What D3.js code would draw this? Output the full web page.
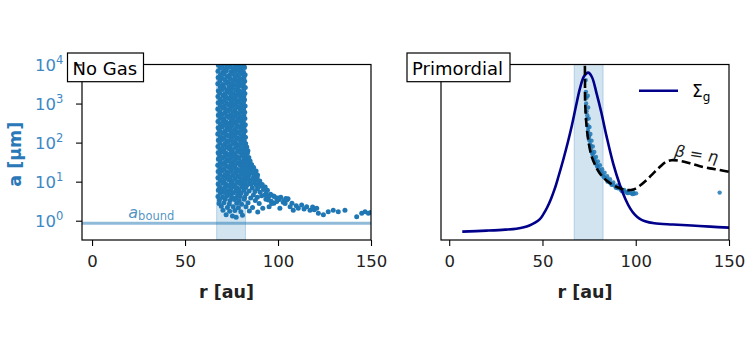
<!DOCTYPE html>
<html><head><meta charset="utf-8">
<script src="https://cdn.jsdelivr.net/npm/d3@7"></script>
<style>
body{margin:0;background:#fff;}
svg{font-family:"DejaVu Sans",sans-serif;display:block;}
</style></head>
<body>
<svg id="c" width="750" height="350"></svg>
<script>
// ---------- data ----------
const xTicks = [0, 50, 100, 150];
const yTickExps = [0, 1, 2, 3, 4];
const panelTitles = ["No Gas", "Primordial"];
const shadeRange = [67, 82.5];          // au
const aBound = 0.86;                     // μm
// No Gas scatter: [r (au), log10 a (μm)]
const noGasPoints = [
[67.9,3.99],[70.0,3.96],[72.4,3.98],[74.5,3.95],[77.0,3.99],[79.3,3.97],[81.6,3.96],
[68.8,3.91],[71.3,3.88],[73.4,3.92],[75.8,3.89],[78.1,3.91],[80.2,3.88],[82.0,3.92],
[67.7,3.83],[70.3,3.80],[72.2,3.84],[74.7,3.81],[76.8,3.82],[79.1,3.84],[81.4,3.80],
[69.0,3.73],[71.1,3.76],[73.6,3.72],[75.6,3.75],[78.2,3.73],[80.4,3.76],[82.3,3.74],
[67.8,3.67],[70.0,3.65],[72.5,3.68],[74.4,3.64],[77.0,3.67],[79.4,3.65],[81.7,3.66],
[68.7,3.58],[71.4,3.60],[73.3,3.56],[75.9,3.59],[77.9,3.57],[80.1,3.60],[82.1,3.57],
[67.6,3.51],[70.2,3.49],[72.3,3.52],[74.8,3.50],[76.7,3.48],[79.2,3.51],[81.3,3.50],
[68.9,3.43],[71.0,3.41],[73.7,3.43],[75.5,3.40],[78.3,3.42],[80.5,3.44],[82.4,3.41],
[67.9,3.33],[70.1,3.36],[72.6,3.34],[74.5,3.32],[77.2,3.35],[79.0,3.33],[81.5,3.35],
[68.6,3.27],[71.3,3.25],[73.4,3.28],[75.7,3.26],[78.0,3.24],[80.3,3.27],[82.2,3.26],
[67.7,3.18],[70.4,3.20],[72.1,3.17],[74.6,3.19],[76.9,3.16],[79.3,3.19],[81.6,3.18],
[68.8,3.11],[71.2,3.09],[73.5,3.12],[75.8,3.10],[78.1,3.08],[80.2,3.11],[82.0,3.10],
[67.8,3.02],[70.0,3.04],[72.4,3.01],[74.7,3.03],[77.1,3.00],[79.1,3.03],[81.4,3.02],
[68.9,2.95],[71.1,2.93],[73.6,2.96],[75.6,2.94],[78.2,2.92],[80.4,2.95],[82.3,2.94],
[67.6,2.86],[70.2,2.88],[72.3,2.85],[74.4,2.87],[76.8,2.84],[79.4,2.87],[81.5,2.86],
[68.7,2.79],[71.4,2.77],[73.3,2.80],[75.9,2.78],[77.9,2.76],[80.1,2.79],[82.1,2.78],
[67.9,2.70],[70.1,2.72],[72.5,2.69],[74.6,2.71],[77.0,2.68],[79.2,2.71],[81.6,2.70],
[68.8,2.63],[71.0,2.61],[73.5,2.64],[75.7,2.62],[78.3,2.60],[80.3,2.63],[82.2,2.62],
[67.7,2.54],[70.3,2.56],[72.2,2.53],[74.8,2.55],[76.9,2.52],[79.0,2.55],[81.3,2.54],
[69.0,2.47],[71.2,2.45],[73.4,2.48],[75.5,2.46],[78.0,2.44],[80.5,2.47],[82.4,2.46],
[67.8,2.38],[70.0,2.40],[72.6,2.37],[74.5,2.39],[77.1,2.36],[79.3,2.39],[81.7,2.38],
[68.6,2.31],[71.3,2.29],[73.6,2.32],[75.8,2.30],[78.2,2.28],[80.2,2.31],[82.3,2.30],
[67.6,2.22],[70.2,2.24],[72.3,2.21],[74.7,2.23],[76.8,2.20],[79.1,2.23],[81.5,2.22],
[68.9,2.15],[71.1,2.13],[73.5,2.16],[75.6,2.14],[78.1,2.12],[80.4,2.15],[82.5,2.14],
[67.9,2.06],[70.1,2.08],[72.4,2.05],[74.6,2.07],[77.0,2.04],[79.4,2.07],[81.8,2.06],
[68.7,1.99],[71.4,1.97],[73.3,2.00],[75.9,1.98],[78.0,1.96],[80.3,1.99],[82.6,1.98],
[67.7,1.90],[70.3,1.92],[72.5,1.89],[74.4,1.91],[77.2,1.88],[79.2,1.91],[81.6,1.90],[83.2,1.89],
[68.8,1.83],[71.0,1.81],[73.7,1.84],[75.5,1.82],[78.3,1.80],[80.1,1.83],[82.4,1.82],[83.8,1.79],
[67.8,1.74],[70.0,1.76],[72.2,1.73],[74.8,1.75],[76.9,1.72],[79.3,1.75],[81.4,1.74],[83.5,1.73],
[68.6,1.67],[71.2,1.65],[73.4,1.68],[75.7,1.66],[78.1,1.64],[80.5,1.67],[82.7,1.66],[84.3,1.62],
[67.9,1.58],[70.2,1.60],[72.6,1.57],[74.5,1.59],[77.0,1.56],[79.0,1.59],[81.7,1.58],[83.9,1.57],[85.0,1.53],
[68.9,1.51],[71.3,1.49],[73.5,1.52],[75.8,1.50],[78.2,1.48],[80.2,1.51],[82.3,1.50],[84.4,1.47],[85.8,1.44],
[67.6,1.42],[70.1,1.44],[72.3,1.41],[74.7,1.43],[76.8,1.40],[79.4,1.43],[81.5,1.42],[83.6,1.41],[85.5,1.38],[86.9,1.36],
[68.7,1.35],[71.1,1.33],[73.6,1.36],[75.6,1.34],[78.0,1.32],[80.4,1.35],[82.6,1.34],[84.8,1.32],[86.6,1.30],[88.2,1.27],
[67.8,1.26],[70.0,1.28],[72.4,1.25],[74.6,1.27],[77.1,1.24],[79.1,1.27],[81.3,1.26],[83.4,1.25],[85.7,1.23],[87.5,1.21],[89.0,1.17],
[68.8,1.19],[71.4,1.17],[73.3,1.20],[75.9,1.18],[78.3,1.16],[80.3,1.19],[82.5,1.18],[84.2,1.16],[86.9,1.14],[88.8,1.10],
[67.7,1.10],[70.2,1.12],[72.5,1.09],[74.4,1.11],[77.0,1.08],[79.2,1.11],[81.6,1.10],[83.8,1.08],[86.1,1.06],[88.0,1.04],[90.2,1.02],
[68.9,1.03],[71.0,1.01],[73.7,1.04],[75.5,1.02],[78.2,1.00],[80.1,1.03],[82.4,1.01],[84.7,0.99],[87.3,0.97],[89.6,0.95],[91.5,0.93],
[67.8,0.94],[70.3,0.96],[72.3,0.93],[74.8,0.95],[76.9,0.92],[79.3,0.95],[81.4,0.94],[83.2,0.91],[85.6,0.93],[88.4,0.90],[90.9,0.88],[93.1,0.86],
[68.6,0.87],[71.3,0.85],[73.4,0.88],[75.7,0.86],[78.0,0.84],[80.5,0.87],[82.7,0.85],[86.2,0.84],[89.0,0.82],[92.2,0.80],[94.3,0.78],
[67.9,0.78],[70.0,0.80],[72.6,0.77],[74.5,0.79],[77.2,0.76],[79.0,0.79],[81.7,0.78],[84.5,0.76],[87.6,0.75],[90.4,0.73],[93.6,0.70],[96.0,0.68],
[69.0,0.70],[71.1,0.72],[73.5,0.69],[75.8,0.71],[78.3,0.68],[80.2,0.71],[83.0,0.69],[86.8,0.66],[91.2,0.64],[95.1,0.62],[97.6,0.63],
[67.7,0.62],[70.2,0.60],[72.4,0.63],[75.0,0.61],[77.4,0.59],[79.6,0.62],[82.1,0.60],[85.3,0.58],[88.9,0.60],[99.2,0.58],[101.5,0.60],[104.2,0.57],
[68.5,0.53],[71.6,0.55],[74.2,0.52],[76.6,0.54],[79.1,0.51],[81.8,0.55],[87.8,0.52],[93.5,0.55],[96.4,0.50],[100.6,0.54],[103.3,0.51],[105.4,0.56],
[68.3,0.44],[70.9,0.46],[73.8,0.43],[77.8,0.45],[80.4,0.42],[83.9,0.46],[89.9,0.44],[97.8,0.45],[102.8,0.47],
[69.5,0.37],[72.8,0.34],[75.9,0.36],[78.7,0.33],[82.8,0.36],[86.3,0.34],[91.8,0.32],[95.2,0.36],
[70.4,0.27],[74.0,0.24],[76.8,0.26],[80.0,0.23],[84.6,0.25],[89.1,0.22],
[72.1,0.15],[75.5,0.12],[77.5,0.09],[80.9,0.14],
[93.0,0.66],[94.8,0.53],[96.6,0.44],[99.3,0.49],[101.0,0.32],[103.8,0.44],[104.7,0.53],[106.5,0.36],
[108.2,0.27],[110.9,0.32],[112.7,0.40],[115.4,0.36],[117.2,0.27],[120.8,0.32],[121.7,0.19],[124.4,0.15],
[127.0,0.23],[129.7,0.27],[132.4,0.23],[136.0,0.27],[142.3,0.10],[145.0,0.19],[146.8,0.23],[148.6,0.19],
[107.5,0.45],[109.8,0.38],[114.0,0.30],[118.6,0.35],[119.5,0.28],[100.2,0.58],[98.0,0.62],[149.8,0.21]
];
// Primordial scatter: [r (au), log10 a (μm)]
const primPoints = [
[73.2,3.60],[73.3,3.30],[73.4,3.00],[73.6,2.80],[73.8,2.60],[74.1,2.45],[74.4,2.30],[74.7,2.18],
[75.1,2.06],[75.5,1.96],[75.9,1.87],[76.4,1.78],[76.9,1.70],[77.5,1.61],[78.1,1.53],[78.8,1.46],
[79.6,1.38],[80.5,1.31],[81.5,1.23],[82.6,1.16],[83.8,1.09],[85.0,1.03],[86.3,0.97],[87.7,0.92],
[89.1,0.87],[90.5,0.83],[92.0,0.79],[93.4,0.76],[94.9,0.73],[96.3,0.71],[97.7,0.70],[99.0,0.69],[100.2,0.70],
[73.6,3.15],[74.0,2.70],[74.5,2.38],[75.0,2.15],[75.8,1.92],[76.7,1.72],[77.8,1.55],[79.2,1.40],
[80.9,1.25],[82.8,1.12],[84.9,1.00],[87.0,0.92],[89.5,0.84],[92.5,0.76],[95.5,0.71],[98.3,0.68],
[74.3,3.20],[74.5,2.90],[74.8,2.62],[75.2,2.40],[75.7,2.22],[76.3,2.05],[77.0,1.90],[77.8,1.76],
[78.7,1.63],[79.7,1.52],[80.8,1.42],[82.0,1.32],[83.3,1.23],[84.7,1.14],[86.2,1.06],[88.0,0.98],
[90.0,0.90],[91.8,0.84],[93.8,0.79],[96.0,0.75],[98.6,0.73],
[145.0,0.72]
];
// β = η curve: [r (au), log10 a (μm)]
const betaEtaCurve = [
[72.7,4.30],[72.8,3.60],[72.9,3.01],[73.7,2.40],[74.8,1.99],[76.4,1.64],[78.5,1.40],[80.8,1.21],
[84.0,1.04],[87.9,0.91],[91.5,0.83],[95.1,0.785],[98.7,0.80],[102.0,0.89],[105.8,1.04],[109.5,1.22],
[113.0,1.38],[116.0,1.50],[119.2,1.55],[124.0,1.53],[129.0,1.47],[134.0,1.40],[139.8,1.34],[145.0,1.30],[150.0,1.25]
];
// Gas surface density Σg (normalised): [r (au), Σg]
const sigmaGas = [
[7,0.050],[20,0.056],[30,0.062],[36,0.068],[40,0.076],[43,0.087],[46,0.104],[48.6,0.125],[50.5,0.155],
[52.5,0.195],[54.5,0.245],[56.5,0.305],[58.5,0.378],[61.1,0.480],[63.5,0.582],[65.6,0.680],[68,0.805],
[70.1,0.910],[72.3,0.982],[74.5,1.004],[76.5,0.978],[79,0.880],[81.5,0.768],[84.4,0.620],[88,0.455],
[91.5,0.330],[94.5,0.245],[97,0.190],[99.5,0.152],[102,0.128],[105,0.112],[110,0.100],[120,0.093],
[130,0.087],[140,0.080],[150,0.074]
];

// ---------- drawing ----------
const svg = d3.select("#c");
const blue = "#1f77b4";
const tickBlue = "#4088c4";
const yTop = 64.5, yBot = 240;

const panels = [
  {x0: 82, x1: 371, dom: [-5.4, 150], title: panelTitles[0], tx: 67.5, tw: 76},
  {x0: 441, x1: 729, dom: [-4.4, 150], title: panelTitles[1], tx: 407, tw: 103}
];
const y = d3.scaleLog().domain([Math.pow(10, -0.494), 1e4]).range([yBot, yTop]);
const ySig = d3.scaleLinear().domain([0, 1.05]).range([yBot, 65]);

const defs = svg.append("defs");

panels.forEach((p, i) => {
  const x = d3.scaleLinear().domain(p.dom).range([p.x0, p.x1]);
  defs.append("clipPath").attr("id", "clip" + i)
    .append("rect").attr("x", p.x0).attr("y", yTop).attr("width", p.x1 - p.x0).attr("height", yBot - yTop);
  const g = svg.append("g");
  const plot = g.append("g").attr("clip-path", `url(#clip${i})`);

  // shaded band
  plot.append("rect")
    .attr("x", x(shadeRange[0])).attr("y", yTop)
    .attr("width", x(shadeRange[1]) - x(shadeRange[0])).attr("height", yBot - yTop)
    .attr("fill", blue).attr("fill-opacity", 0.2)
    .attr("stroke", blue).attr("stroke-opacity", 0.25).attr("stroke-width", 1);

  if (i === 0) {
    plot.append("line")
      .attr("x1", p.x0).attr("x2", p.x1).attr("y1", y(aBound)).attr("y2", y(aBound))
      .attr("stroke", blue).attr("stroke-opacity", 0.5).attr("stroke-width", 3);
    plot.selectAll("circle.pt").data(noGasPoints).join("circle")
      .attr("cx", d => x(d[0])).attr("cy", d => y(Math.pow(10, d[1])))
      .attr("r", 2.5).attr("fill", blue);
    const t = g.append("text").attr("x", x(19.5)).attr("y", y(aBound) - 5)
      .attr("fill", blue).attr("fill-opacity", 0.8).attr("font-size", 16);
    t.append("tspan").attr("font-style", "italic").text("a");
    t.append("tspan").attr("font-size", 11.5).attr("dy", 2).text("bound");
  } else {
    plot.selectAll("circle.pt").data(primPoints).join("circle")
      .attr("cx", d => x(d[0])).attr("cy", d => y(Math.pow(10, d[1])))
      .attr("r", 2.2).attr("fill", blue).attr("fill-opacity", 0.85);
    plot.append("path").datum(sigmaGas)
      .attr("d", d3.line().x(d => x(d[0])).y(d => ySig(d[1])).curve(d3.curveCatmullRom.alpha(0.5)))
      .attr("fill", "none").attr("stroke", "#00008b").attr("stroke-width", 2.6);
    plot.append("path").datum(betaEtaCurve)
      .attr("d", d3.line().x(d => x(d[0])).y(d => y(Math.pow(10, d[1]))).curve(d3.curveCatmullRom.alpha(0.5)))
      .attr("fill", "none").attr("stroke", "#000").attr("stroke-width", 2.6)
      .attr("stroke-dasharray", "9,4");
    // β = η label
    const bt = g.append("text").attr("transform", `translate(${x(120.5)},${156}) rotate(9)`)
      .attr("font-size", 16).attr("fill", "#222");
    bt.append("tspan").attr("font-style", "italic").text("β");
    bt.append("tspan").text(" = ");
    bt.append("tspan").attr("font-style", "italic").text("η");
    // legend
    g.append("line").attr("x1", 639).attr("x2", 678).attr("y1", 90.7).attr("y2", 90.7)
      .attr("stroke", "#00008b").attr("stroke-width", 2.6);
    const lt = g.append("text").attr("x", 692).attr("y", 97.3).attr("font-size", 17).attr("fill", "#000");
    lt.append("tspan").text("Σ");
    lt.append("tspan").attr("font-size", 12).attr("dy", 3.5).text("g");
  }

  // spines
  g.append("rect").attr("x", p.x0).attr("y", yTop).attr("width", p.x1 - p.x0).attr("height", yBot - yTop)
    .attr("fill", "none").attr("stroke", "#000").attr("stroke-width", 1.2);

  // x axis
  const xa = g.append("g").attr("transform", `translate(0,${yBot})`)
    .call(d3.axisBottom(x).tickValues(xTicks).tickSize(6).tickPadding(9).tickFormat(d3.format("d")));
  xa.select(".domain").remove();
  xa.selectAll("line").attr("stroke", "#000").attr("stroke-width", 1.1);
  xa.selectAll("text").attr("font-size", 16.5).attr("fill", "#222").attr("font-family", "DejaVu Sans");
  g.append("text").attr("x", (p.x0 + p.x1) / 2).attr("y", 298).attr("text-anchor", "middle")
    .attr("font-weight", "bold").attr("font-size", 17.5).attr("fill", "#222").text("r [au]");

  // title box
  g.append("rect").attr("x", p.tx).attr("y", 53).attr("width", p.tw).attr("height", 28.7)
    .attr("fill", "#fff").attr("stroke", "#000").attr("stroke-width", 1.2);
  g.append("text").attr("x", p.tx + 5).attr("y", 74.5).attr("font-size", 18).attr("fill", "#000").text(p.title);
});

// left y axis (log, blue labels)
const p0 = panels[0];
const ya = svg.append("g").attr("transform", `translate(${p0.x0},0)`)
  .call(d3.axisLeft(y).tickValues(yTickExps.map(e => Math.pow(10, e))).tickSize(6).tickFormat(""));
ya.select(".domain").remove();
ya.selectAll("line").attr("stroke", "#000").attr("stroke-width", 1.1);
ya.selectAll(".tick").each(function(d, k) {
  const e = yTickExps[k];
  const t = d3.select(this).append("text").attr("x", 35 - p0.x0).attr("y", 6)
    .attr("text-anchor", "start").attr("fill", tickBlue).attr("font-size", 16.5)
    .attr("font-family", "DejaVu Sans");
  t.append("tspan").text("10");
  t.append("tspan").attr("font-size", 11.5).attr("dy", -7.5).text(String(e));
});
svg.append("text").attr("transform", `translate(21,${(yTop + yBot) / 2 + 2}) rotate(-90)`)
  .attr("text-anchor", "middle").attr("font-weight", "bold").attr("font-size", 17.5)
  .attr("fill", "#2a78b8").text("a [μm]");
</script>
</body></html>
